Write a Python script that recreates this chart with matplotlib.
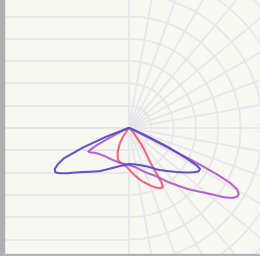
import numpy as np
import matplotlib
matplotlib.use("Agg")
import matplotlib.pyplot as plt
from matplotlib.patches import Rectangle

# Polar intensity data: angle in degrees from nadir (negative = left), radius in chart units
blue_angle = [-90, -80, -72, -69, -67, -65, -63, -61, -59, -57, -54, -48, -40, -34, -22, -10, 0,
              10, 20, 26, 35, 42, 48, 53, 56, 58, 60, 61, 62, 64, 65.5, 68, 75, 90]
blue_r = [0, 1, 4, 25, 50, 72, 80, 85, 86, 83, 77, 66, 57, 52, 43, 38, 36,
          37, 40, 43, 51, 58, 66, 74, 79, 82, 82, 78, 67, 43, 21, 5, 1, 0]

magenta_angle = [-90, -75, -66, -63, -62, -61, -60, -58, -55, -50, -40, -30, -15, 0,
                 10, 20, 30, 36, 44, 51, 54, 56, 57.5, 59, 60.5, 61.5, 62.2, 62.8, 63.4, 65, 70, 90]
magenta_r = [0, 1, 8, 25, 36, 43, 47, 46, 43, 40, 37, 36, 36, 37,
             40, 47, 56, 67, 85, 105, 118, 125, 128, 128, 124, 115, 100, 74, 36, 10, 2, 0]

red_angle = [-90, -45, -35, -31, -25, -19, -10, -3, 5, 13, 20, 24, 27, 29, 30,
             30.8, 31.2, 31.6, 33, 35, 37, 45, 60, 90]
red_r = [0, 1, 10, 18, 27, 34, 37, 39, 46, 54, 61, 65, 67.5, 68.5, 67.5,
         64, 55, 42, 34, 27, 20, 6, 1, 0]

grid_radii = [22.3 * k for k in range(1, 10)]
radial_angles = list(range(-90, 91, 10))

fig = plt.figure(figsize=(2.6, 2.56), dpi=100)
fig.patch.set_facecolor("#f8f8f3")
ax = fig.add_axes([0, 0, 1, 1])
ax.set_facecolor("#f8f8f3")
ax.set_xlim(-129, 131)
ax.set_ylim(-128, 128)
ax.set_aspect("equal")
ax.axis("off")

gcol = "#e7e6ea"
glw = 1.3
# left half: horizontal lines
for r in [0] + grid_radii:
    for s in (1, -1):
        ax.plot([-135, 0], [s * r, s * r], color=gcol, lw=glw, zorder=1)
# right half: circles
phi = np.linspace(-np.pi / 2, np.pi / 2, 200)
for r in grid_radii:
    ax.plot(r * np.cos(phi), r * np.sin(phi), color=gcol, lw=glw, zorder=1)
# right half: radial lines
for a in radial_angles:
    t = np.deg2rad(a)
    ax.plot([0, 300 * np.cos(t)], [0, 300 * np.sin(t)], color=gcol, lw=glw, zorder=1)

def draw(angles, radii, color):
    a = np.deg2rad(np.array(angles, dtype=float))
    r = np.array(radii, dtype=float)
    x = r * np.sin(a)
    y = -r * np.cos(a)
    ax.plot(x, y, color=color, lw=1.5, alpha=0.95, zorder=3,
            solid_joinstyle="round", solid_capstyle="round")

draw(red_angle, red_r, "#f2607a")
draw(magenta_angle, magenta_r, "#b35ec9")
draw(blue_angle, blue_r, "#5b4fc2")

# frame strips
fig.patches.append(Rectangle((0, 0), 4 / 260, 1, transform=fig.transFigure,
                             color="#aeaeae", zorder=10))
fig.patches.append(Rectangle((0, 0), 1, 2 / 256, transform=fig.transFigure,
                             color="#b4b4b4", zorder=10))

fig.savefig("out.png", dpi=100, facecolor=fig.get_facecolor())
